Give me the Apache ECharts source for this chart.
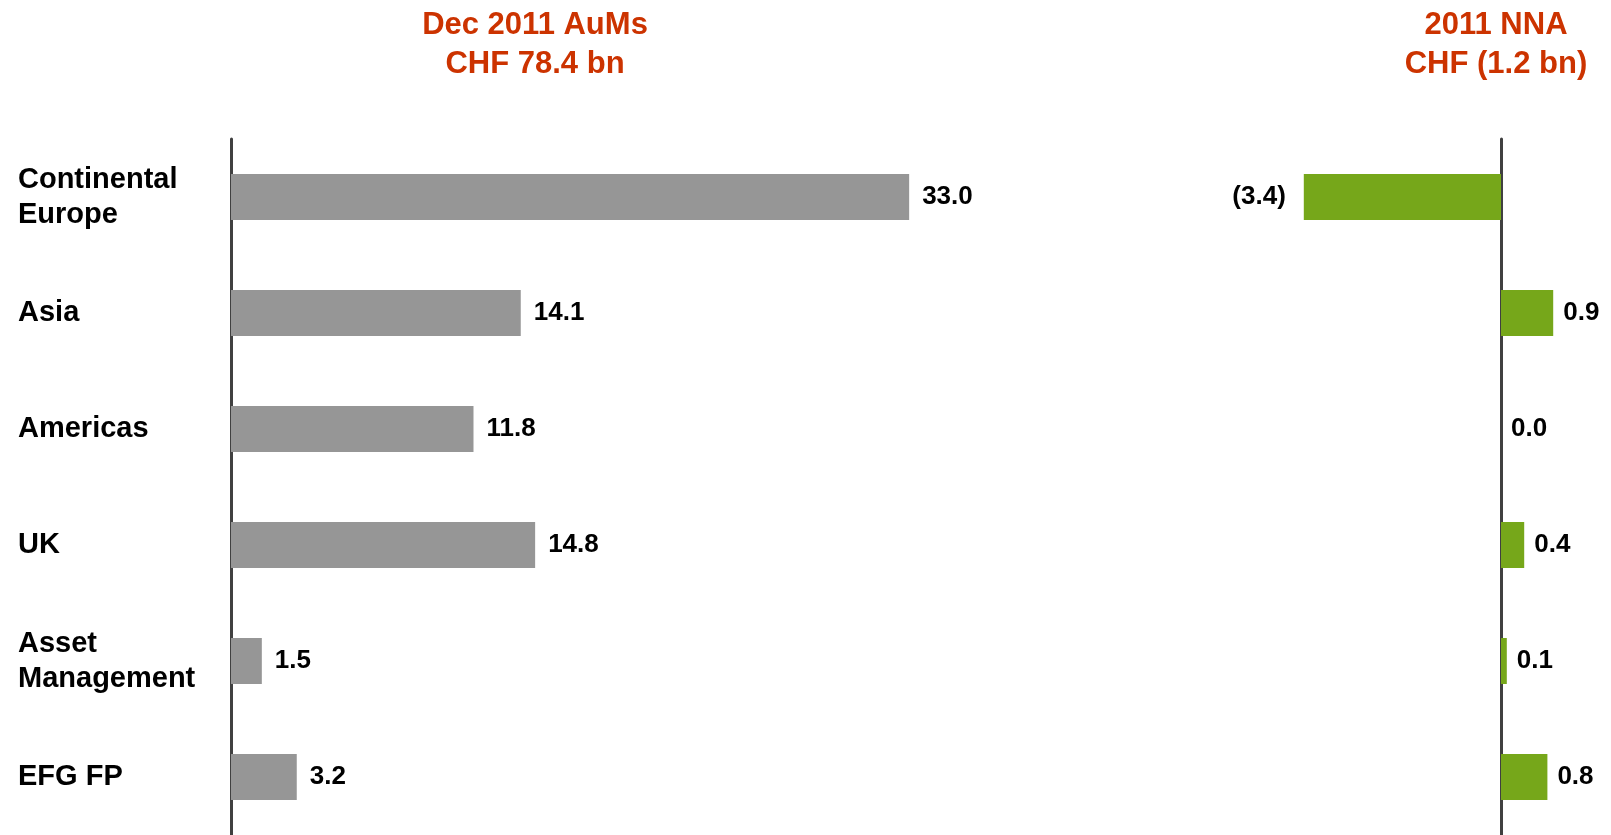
<!DOCTYPE html>
<html>
<head>
<meta charset="utf-8">
<script src="https://cdn.jsdelivr.net/npm/echarts@6/dist/echarts.min.js"></script>
<style>
  html, body { margin: 0; padding: 0; background: #ffffff; }
  #chart { width: 1611px; height: 835px; }
</style>
</head>
<body>
<div id="chart"></div>
<script>
// Regions, top to bottom
var regions = ['Continental\nEurope', 'Asia', 'Americas', 'UK', 'Asset\nManagement', 'EFG FP'];
// Assets under management, Dec 2011 (CHF bn)
var aums = [33.0, 14.1, 11.8, 14.8, 1.5, 3.2];
// Net new assets, 2011 (CHF bn)
var nna = [-3.4, 0.9, 0.0, 0.4, 0.1, 0.8];

var titleAum = 'Dec 2011 AuMs\nCHF 78.4 bn';
var titleNna = '2011 NNA\nCHF (1.2 bn)';

var FONT = '"Liberation Sans", Arial, sans-serif';
var RED = '#CC3300';

function fmt(v) {
  return v < 0 ? '(' + Math.abs(v).toFixed(1) + ')' : v.toFixed(1);
}

var chart = echarts.init(document.getElementById('chart'), null, { renderer: 'canvas' });

var titleStyle = {
  color: RED, fontFamily: FONT, fontWeight: 'bold', fontSize: 31, lineHeight: 39
};

chart.setOption({
  animation: false,
  backgroundColor: '#ffffff',
  title: [
    { text: titleAum, left: 535, top: 6, padding: 0, textAlign: 'center',
      textStyle: Object.assign({ align: 'center' }, titleStyle) },
    { text: titleNna, left: 1496, top: 6, padding: 0, textAlign: 'center',
      textStyle: Object.assign({ align: 'center' }, titleStyle) }
  ],
  grid: [
    { left: 231, top: 139, width: 822, bottom: 0 },
    { left: 1269, top: 139, width: 319, bottom: 0 }
  ],
  xAxis: [
    { type: 'value', gridIndex: 0, min: 0, max: 40, show: false },
    { type: 'value', gridIndex: 1, min: -4, max: 1.5, show: false }
  ],
  yAxis: [
    {
      type: 'category', gridIndex: 0, data: regions, inverse: true,
      axisLine: { show: true, lineStyle: { color: '#404040', width: 3 } },
      axisTick: { show: false },
      axisLabel: {
        show: true, align: 'left', margin: 213,
        color: '#000000', fontFamily: FONT, fontWeight: 'bold', fontSize: 29, lineHeight: 35
      }
    },
    {
      type: 'category', gridIndex: 1, data: regions, inverse: true,
      axisLine: { show: true, onZero: true, lineStyle: { color: '#404040', width: 3 } },
      axisTick: { show: false },
      axisLabel: { show: false }
    }
  ],
  series: [
    {
      type: 'bar', xAxisIndex: 0, yAxisIndex: 0,
      data: aums, barWidth: 46,
      itemStyle: { color: '#969696' },
      label: {
        show: true, position: 'right', distance: 13,
        color: '#000000', fontFamily: FONT, fontWeight: 'bold', fontSize: 26,
        formatter: function (p) { return fmt(p.value); }
      }
    },
    {
      type: 'bar', xAxisIndex: 1, yAxisIndex: 1,
      data: nna.map(function (v) {
        return { value: v, label: { position: v < 0 ? 'left' : 'right', distance: v < 0 ? 18 : 10 } };
      }),
      barWidth: 46,
      itemStyle: { color: '#76A71A' },
      label: {
        show: true, position: 'right', distance: 10,
        color: '#000000', fontFamily: FONT, fontWeight: 'bold', fontSize: 26,
        formatter: function (p) { return fmt(p.value); }
      }
    }
  ]
});
</script>
</body>
</html>
